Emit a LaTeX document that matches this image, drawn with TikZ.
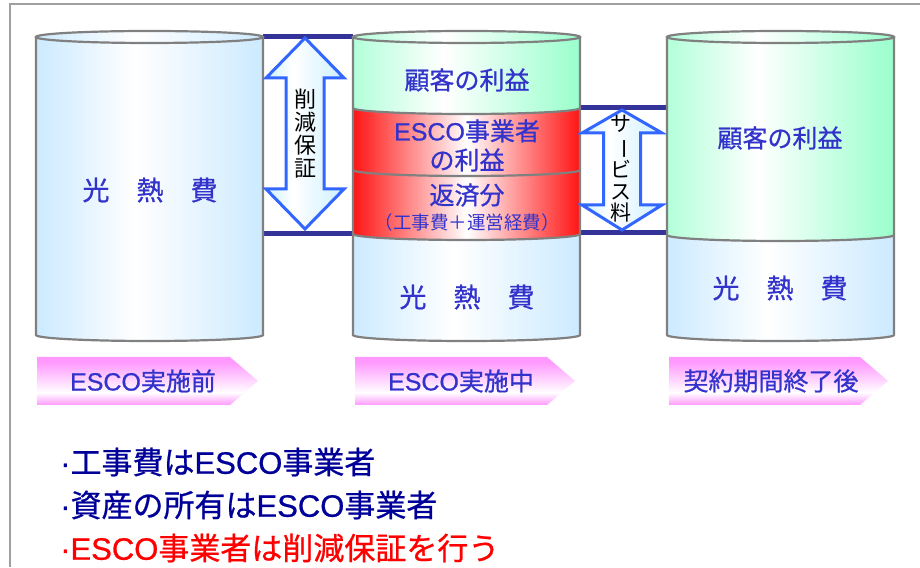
\documentclass[tikz,border=0pt]{standalone}
\usepackage{fontspec}
\usepackage{graphicx}
\setmainfont{Noto Sans CJK JP}[BoldFont={Noto Sans CJK JP}, BoldFeatures={FakeBold=0.7}]
\newfontfamily\lat{Liberation Sans}[BoldFont={Liberation Sans}, BoldFeatures={FakeBold=0.7}]
\definecolor{cylblue}{RGB}{204,234,255}
\definecolor{cylgreen}{RGB}{153,255,204}
\definecolor{cylred}{RGB}{255,20,20}
\definecolor{cylgray}{RGB}{128,128,128}
\definecolor{navy}{RGB}{51,51,153}
\definecolor{navytext}{RGB}{0,0,153}
\definecolor{txtblue}{RGB}{51,51,204}
\definecolor{arrowblue}{RGB}{51,102,255}
\definecolor{arrowfill}{RGB}{204,240,255}
\definecolor{lpink}{RGB}{255,153,255}
\definecolor{framegray}{RGB}{160,160,160}
\pgfdeclarehorizontalshading{blueshade}{100bp}{color(0bp)=(cylblue); color(25bp)=(cylblue); color(47bp)=(white); color(75bp)=(cylblue); color(100bp)=(cylblue)}
\pgfdeclarehorizontalshading{greenshade}{100bp}{color(0bp)=(cylgreen); color(25bp)=(cylgreen!75!white); color(45bp)=(white); color(75bp)=(cylgreen); color(100bp)=(cylgreen)}
\pgfdeclarehorizontalshading{redshade}{100bp}{color(0bp)=(cylred); color(25bp)=(cylred); color(50bp)=(white); color(75bp)=(cylred); color(100bp)=(cylred)}
\pgfdeclarehorizontalshading{arrowshade}{100bp}{color(0bp)=(arrowfill); color(25bp)=(arrowfill); color(42bp)=(white); color(75bp)=(arrowfill); color(100bp)=(arrowfill)}
\pgfdeclareverticalshading{pinkshade}{100bp}{color(0bp)=(lpink); color(25bp)=(lpink); color(38bp)=(white); color(70bp)=(lpink); color(100bp)=(lpink)}
\begin{document}
\begin{tikzpicture}[x=1pt,y=1pt,
  cyl/.style={draw=cylgray, line width=2.2pt},
  navyline/.style={draw=navy, line width=5pt},
  dblarrow/.style={draw=arrowblue, line width=3pt, shade, shading=arrowshade, line join=miter},
  cyltext/.style={text=txtblue, font=\fontsize{25}{28}\selectfont\bfseries, inner sep=0pt},
  bigtext/.style={text=txtblue, font=\fontsize{27}{30}\selectfont\bfseries, inner sep=0pt},
  vtext/.style={text=black, align=center, inner sep=0pt},
  labeltext/.style={text=txtblue, font=\fontsize{25}{28}\selectfont\bfseries, inner sep=0pt},
  bullet/.style={anchor=west, font=\fontsize{31}{34}\selectfont\bfseries, inner sep=0pt}]
\useasboundingbox (0,0) rectangle (920,567);
% frame
\draw[framegray, line width=2pt] (10,0) -- (10,563) -- (920,563);
% navy connecting lines
\coordinate (c1t) at (263,530); \coordinate (c2tl) at (353,530);
\coordinate (c1b) at (263,333); \coordinate (c2bl) at (353,333);
\coordinate (c2mr) at (580,459); \coordinate (c3ml) at (667,459);
\coordinate (c2br) at (580,334); \coordinate (c3bl) at (667,334);
\draw[navyline] (c1t) -- (c2tl);
\draw[navyline] (c1b) -- (c2bl);
\draw[navyline] (c2mr) -- (c3ml);
\draw[navyline] (c2br) -- (c3bl);
% ---------- cylinder 1
\path[shade, shading=blueshade] (36,530) -- (36,232) arc[start angle=180,end angle=360,x radius=113.5,y radius=6] -- (263,530) -- cycle;
\draw[cyl] (36,530) -- (36,232) arc[start angle=180,end angle=360,x radius=113.5,y radius=6] -- (263,530);
\draw[cyl, shade, shading=blueshade] (149.5,530) ellipse[x radius=113.5, y radius=6];
% ---------- cylinder 2
\path[shade, shading=greenshade] (353,530) -- (353,459) arc[start angle=180,end angle=360,x radius=113.5,y radius=6] -- (580,530) -- cycle;
\path[shade, shading=redshade] (353,459) arc[start angle=180,end angle=360,x radius=113.5,y radius=6] -- (580,397) arc[start angle=0,end angle=-180,x radius=113.5,y radius=6] -- cycle;
\path[shade, shading=redshade] (353,397) arc[start angle=180,end angle=360,x radius=113.5,y radius=6] -- (580,333) arc[start angle=0,end angle=-180,x radius=113.5,y radius=6] -- cycle;
\path[shade, shading=blueshade] (353,333) arc[start angle=180,end angle=360,x radius=113.5,y radius=6] -- (580,232) arc[start angle=0,end angle=-180,x radius=113.5,y radius=6] -- cycle;
\draw[cyl] (353,459) arc[start angle=180,end angle=360,x radius=113.5,y radius=6];
\draw[cyl] (353,397) arc[start angle=180,end angle=360,x radius=113.5,y radius=6];
\draw[cyl] (353,333) arc[start angle=180,end angle=360,x radius=113.5,y radius=6];
\draw[cyl] (353,530) -- (353,232) arc[start angle=180,end angle=360,x radius=113.5,y radius=6] -- (580,530);
\draw[cyl, shade, shading=greenshade] (466.5,530) ellipse[x radius=113.5, y radius=6];
% ---------- cylinder 3
\path[shade, shading=greenshade] (667,530) -- (667,332) arc[start angle=180,end angle=360,x radius=113.5,y radius=6] -- (894,530) -- cycle;
\path[shade, shading=blueshade] (667,332) arc[start angle=180,end angle=360,x radius=113.5,y radius=6] -- (894,232) arc[start angle=0,end angle=-180,x radius=113.5,y radius=6] -- cycle;
\draw[cyl] (667,332) arc[start angle=180,end angle=360,x radius=113.5,y radius=6];
\draw[cyl] (667,530) -- (667,232) arc[start angle=180,end angle=360,x radius=113.5,y radius=6] -- (894,530);
\draw[cyl, shade, shading=greenshade] (780.5,530) ellipse[x radius=113.5, y radius=6];
% ---------- double arrows
\draw[dblarrow] (305,529) -- (344,489) -- (324,489) -- (324,378) -- (344,378) -- (305,338) -- (266,378) -- (286,378) -- (286,489) -- (266,489) -- cycle;
\draw[dblarrow] (622,457) -- (662,434) -- (640.5,434) -- (640.5,362) -- (662,362) -- (622,337) -- (582,362) -- (603.5,362) -- (603.5,434) -- (582,434) -- cycle;
\node[vtext, font=\fontsize{22}{23}\selectfont] (gen) at (305,433) {削\\減\\保\\証};
\node[vtext, font=\fontsize{21}{21.6}\selectfont] (svc) at (621,398) {サ\\\rotatebox[origin=c]{-90}{ー}\\ビ\\ス\\料};
% ---------- cylinder texts
\node[bigtext] (k1) at (150,377) {光　熱　費};
\node[cyltext] (g2) at (467,487) {顧客の利益};
\node[cyltext] (e2a) at (467,436) {{\lat ESCO}事業者};
\node[cyltext] (e2b) at (467,407) {の利益};
\node[cyltext] (r2a) at (467,372) {返済分};
\node[text=txtblue, font=\fontsize{18.5}{20}\selectfont, inner sep=0pt] (r2b) at (467,345) {（工事費＋運営経費）};
\node[bigtext] (k2) at (467,270) {光　熱　費};
\node[cyltext] (g3) at (780,429) {顧客の利益};
\node[bigtext] (k3) at (780,279) {光　熱　費};
% ---------- stage labels
\path[shade, shading=pinkshade] (37,210) -- (230,210) -- (258,186) -- (230,162) -- (37,162) -- cycle;
\path[shade, shading=pinkshade] (355,210) -- (547,210) -- (575,186) -- (547,162) -- (355,162) -- cycle;
\path[shade, shading=pinkshade] (669,210) -- (860,210) -- (888,186) -- (860,162) -- (669,162) -- cycle;
\node[labeltext] (l1) at (143,186) {{\lat ESCO}実施前};
\node[labeltext] (l2) at (461,186) {{\lat ESCO}実施中};
\node[labeltext] (l3) at (771,186) {契約期間終了後};
% ---------- bullets
\node[bullet, text=navytext] (b1) at (60,105) {{\lat ·}工事費は{\lat ESCO}事業者};
\node[bullet, text=navytext] (b2) at (60,62) {{\lat ·}資産の所有は{\lat ESCO}事業者};
\node[bullet, text=red] (b3) at (60,19) {{\lat ·ESCO}事業者は削減保証を行う};
\end{tikzpicture}
\end{document}
